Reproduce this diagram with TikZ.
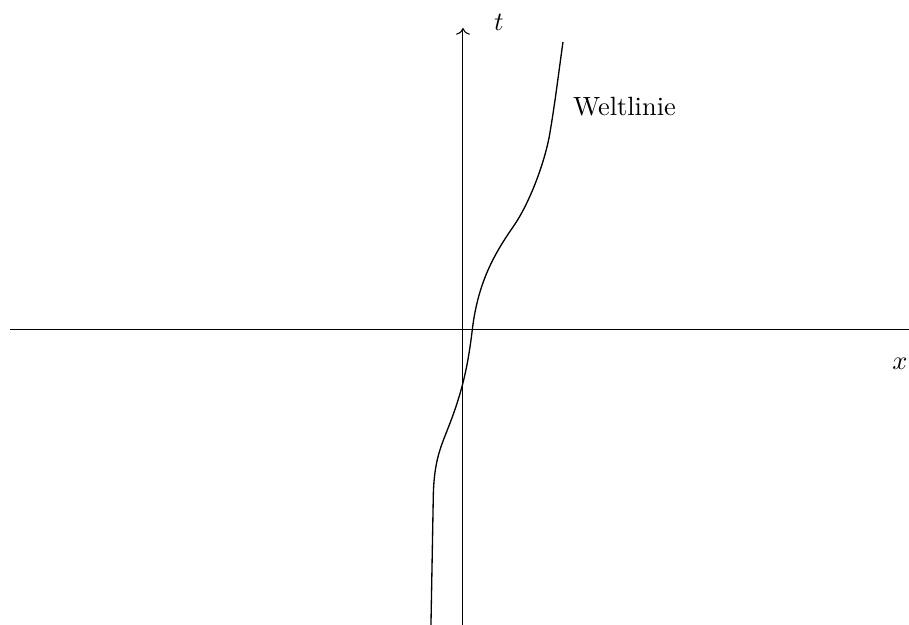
\documentclass[tikz,border=0pt]{standalone}
\usepackage{amsmath,amssymb}
\usetikzlibrary{arrows.meta,positioning,calc}
\tikzset{
  axis/.style={line width=0.4pt, draw=black},
  timeaxis/.style={axis, ->},
  worldline/.style={line width=0.5pt, draw=black},
  lbl/.style={inner sep=2pt},
}

\begin{document}
\begin{tikzpicture}
    \useasboundingbox (-6.165,-3.928) rectangle (5.94,4.394);
    \coordinate (xleft) at (-6.03,0);
    \coordinate (xright) at (5.94,0);
    \coordinate (tbottom) at (0,-3.928);
    \coordinate (ttop) at (0,4.02);
    \draw[axis] (xleft) -- (xright);
    \draw[timeaxis] (tbottom) -- (ttop);
    \node[lbl] (xlabel) at (5.82,-0.45) {$x$};
    \node[lbl] (tlabel) at (0.48,4.10) {$t$};
    % world line
    \draw[worldline] (-0.426,-3.928) -- (-0.395,-2.22)
      .. controls (-0.386,-1.72) and (-0.287,-1.542) .. (-0.173,-1.242)
      .. controls (0.0,-0.792) and (0.070,-0.45) .. (0.124,0)
      .. controls (0.196,0.6) and (0.39,0.976) .. (0.670,1.376)
      .. controls (0.88,1.676) and (1.09,2.223) .. (1.158,2.623)
      .. controls (1.226,3.023) and (1.276,3.435) .. (1.332,3.835);
    \node[lbl,anchor=west] (wlabel) at (1.39,2.97) {Weltlinie};
\end{tikzpicture}
\end{document}
